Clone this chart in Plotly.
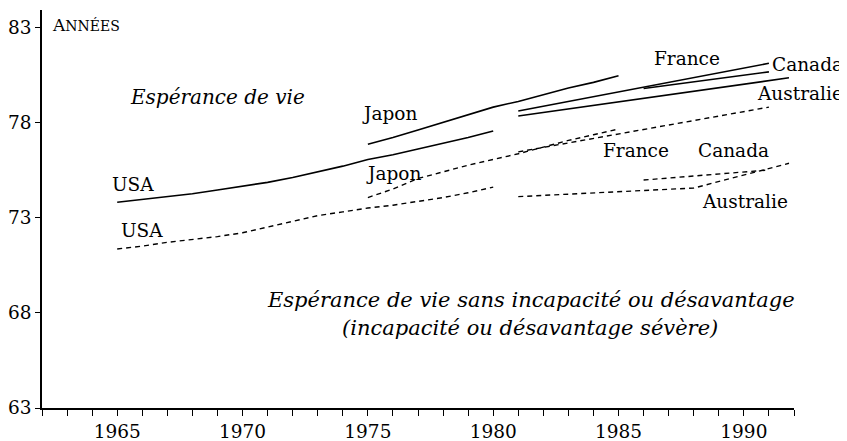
import plotly.graph_objects as go

# ---- data (female life expectancy, years) ----
usa_years = [1965, 1966, 1967, 1968, 1969, 1970, 1971, 1972, 1973, 1974, 1975, 1976, 1977, 1978, 1979, 1980]
usa_le = [73.8, 73.95, 74.1, 74.25, 74.45, 74.65, 74.85, 75.1, 75.4, 75.7, 76.05, 76.3, 76.6, 76.9, 77.2, 77.55]
usa_dfle = [71.35, 71.5, 71.7, 71.85, 72.0, 72.2, 72.5, 72.8, 73.1, 73.3, 73.5, 73.65, 73.85, 74.05, 74.3, 74.6]

japan_years = [1975, 1976, 1977, 1978, 1979, 1980, 1981, 1982, 1983, 1984, 1985]
japan_le = [76.85, 77.2, 77.6, 78.0, 78.4, 78.8, 79.1, 79.45, 79.8, 80.1, 80.45]
japan_dfle = [74.05, 74.5, 75.05, 75.4, 75.75, 76.05, 76.35, 76.7, 77.05, 77.35, 77.65]

france_years = [1981, 1991]
france_le = [78.6, 81.1]
france_dfle = [76.45, 78.8]

canada_years = [1986, 1991]
canada_le = [79.78, 80.65]
canada_dfle = [74.97, 75.5]

australia_years = [1981, 1988, 1991.8]
australia_le = [78.33, 79.63, 80.34]
australia_dfle = [74.1, 74.55, 75.85]

x_ticks = [1965, 1970, 1975, 1980, 1985, 1990]
y_ticks = [63, 68, 73, 78, 83]

X_MIN, X_MAX = 1962, 1992
Y_MIN, Y_MAX = 63, 83.9

# label positions (year, value, text)
labels = [
    (1965.63, 74.73, "USA"),
    (1965.98, 72.33, "USA"),
    (1975.86, 78.49, "Japon"),
    (1976.01, 75.30, "Japon"),
    (1987.75, 81.35, "France"),
    (1992.53, 81.03, "Canada"),
    (1992.24, 79.52, "Australie"),
    (1985.69, 76.54, "France"),
    (1989.58, 76.53, "Canada"),
    (1990.04, 73.85, "Australie"),
]

SERIF = "DejaVu Serif"
fig = go.Figure()

solid = dict(color="black", width=1.6)
dashed = dict(color="black", width=1.4, dash="5px,4px")

for yrs, le, dfle in [
    (usa_years, usa_le, usa_dfle),
    (japan_years, japan_le, japan_dfle),
    (france_years, france_le, france_dfle),
    (canada_years, canada_le, canada_dfle),
    (australia_years, australia_le, australia_dfle),
]:
    fig.add_trace(go.Scatter(x=yrs, y=le, mode="lines", line=solid, showlegend=False, hoverinfo="skip"))
    fig.add_trace(go.Scatter(x=yrs, y=dfle, mode="lines", line=dashed, showlegend=False, hoverinfo="skip"))

def px(year):
    return (year - X_MIN) / (X_MAX - X_MIN)

def py(val):
    return (val - Y_MIN) / (Y_MAX - Y_MIN)

def note(x, y, text, size, xanchor="center"):
    fig.add_annotation(x=px(x), y=py(y), text=text, showarrow=False, xref="paper", yref="paper",
                       xanchor=xanchor, yanchor="middle",
                       font=dict(family=SERIF, size=size, color="black"))

for x, y, t in labels:
    note(x, y, t, 18.5)

note(1969.02, 79.35, "<i>Espérance de vie</i>", 20)
note(1981.51, 68.67, "<i>Espérance de vie sans incapacité ou désavantage</i>", 21)
note(1981.47, 67.2, "<i>(incapacité ou désavantage sévère)</i>", 21)
note(1962.3, 83.1, "A<span style='font-size:14px'>NNÉES</span>", 17, xanchor="left")

# the page body adds an 8px offset; the figure is sized so the plot lands where the reference has it
fig.update_layout(
    width=839, height=433,
    margin=dict(l=34, r=53, t=2, b=33),
    paper_bgcolor="white", plot_bgcolor="white",
    font=dict(family=SERIF, size=18, color="black"),
)
fig.update_xaxes(
    range=[X_MIN, X_MAX], tickvals=x_ticks, ticktext=[str(v) for v in x_ticks],
    automargin=False,
    showgrid=False, zeroline=False, showline=True, linecolor="black", linewidth=1.5,
    ticks="outside", ticklen=6, tickwidth=1.2, tickcolor="black",
    minor=dict(dtick=1, tick0=1962, ticks="outside", ticklen=6, tickwidth=1.2, tickcolor="black", showgrid=False),
    tickfont=dict(family=SERIF, size=18.5, color="black"),
)
fig.update_yaxes(
    range=[Y_MIN, Y_MAX], tickvals=y_ticks, ticktext=[str(v) for v in y_ticks],
    automargin=False,
    showgrid=False, zeroline=False, showline=True, linecolor="black", linewidth=1.5,
    ticks="outside", ticklen=5, tickwidth=1.2, tickcolor="black",
    tickfont=dict(family=SERIF, size=18.5, color="black"),
)

fig.write_html("out.html")
